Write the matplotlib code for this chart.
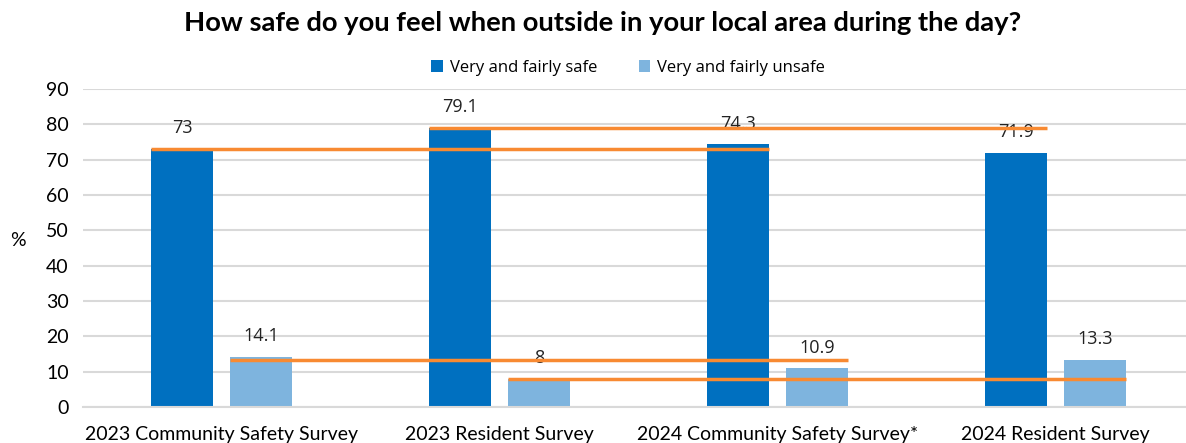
import numpy as np
import matplotlib
matplotlib.use('Agg')
from matplotlib import pyplot as plt

# survey categories and values (%)
categories = ['2023 Community Safety Survey', '2023 Resident Survey',
              '2024 Community Safety Survey*', '2024 Resident Survey']
safe = [73, 79.1, 74.3, 71.9]
unsafe = [14.1, 8, 10.9, 13.3]

# hand-drawn comparison lines: level, start bar, end bar  (bar = (group, series))
ref_levels = [73, 79.1, 13.4, 8]
ref_from = [(0, 0), (1, 0), (0, 1), (1, 1)]
ref_to = [(2, 0), (3, 0), (2, 1), (3, 1)]

dark_blue = '#0070C0'
light_blue = '#7EB4DE'
orange = '#F88A32'
grid_col = '#D9D9D9'

plt.rcParams['font.family'] = ['Lato', 'DejaVu Sans']
label_font = ['Open Sans', 'DejaVu Sans']

fig = plt.figure(figsize=(11.86, 4.43), dpi=100)
ax = fig.add_axes([82.5 / 1186, 36 / 443, 1 - 82.5 / 1186, (407 - 89) / 443])

x = np.arange(len(categories))
w = 0.223
off = 0.142
b1 = ax.bar(x - off, safe, w, color=dark_blue, label='Very and fairly safe', zorder=2)
b2 = ax.bar(x + off, unsafe, w, color=light_blue, label='Very and fairly unsafe', zorder=2)

# data labels
for bars, vals in [(b1, safe), (b2, unsafe)]:
    for rect, v in zip(bars, vals):
        ax.annotate(f'{v:g}', (rect.get_x() + rect.get_width() / 2, v),
                    xytext=(0, 15), textcoords='offset points', ha='center', va='center',
                    fontsize=13, color='#222222', family=label_font, zorder=3)

# orange comparison lines
def bar_edge(g, s, side):
    c = g + (off if s else -off)
    return c - w / 2 if side == 'left' else c + w / 2

for lvl, a, b in zip(ref_levels, ref_from, ref_to):
    ax.plot([bar_edge(a[0], a[1], 'left'), bar_edge(b[0], b[1], 'right')], [lvl, lvl],
            color=orange, lw=2.5, solid_capstyle='butt', zorder=4)

ax.set_xlim(-0.5, (1186 - 82.5) / 278 - 0.5)
ax.set_ylim(0, 90)
ax.set_yticks(range(0, 91, 10))
ax.set_xticks(x)
ax.set_xticklabels(categories, fontsize=14)
ax.tick_params(axis='y', labelsize=14, length=0, pad=10)
ax.tick_params(axis='x', length=0, pad=14)
ax.yaxis.grid(True, color=grid_col, lw=1.5, zorder=0)
ax.set_axisbelow(True)
for s in ['top', 'right', 'left']:
    ax.spines[s].set_visible(False)
ax.spines['bottom'].set_color(grid_col)
ax.spines['bottom'].set_linewidth(1.5)

fig.text(18 / 1186, 1 - 240 / 443, '%', fontsize=14, ha='center', va='center')
fig.text(603 / 1186, 1 - 23 / 443, 'How safe do you feel when outside in your local area during the day?',
         fontsize=19.7, fontweight='bold', ha='center', va='center')

fig.legend(loc='center', bbox_to_anchor=(628 / 1186, 1 - 68 / 443), ncol=2, frameon=False,
           prop={'family': label_font, 'size': 12},
           handlelength=0.7, handleheight=0.7, columnspacing=2.5, handletextpad=0.4)

fig.savefig('out.png', dpi=100)
